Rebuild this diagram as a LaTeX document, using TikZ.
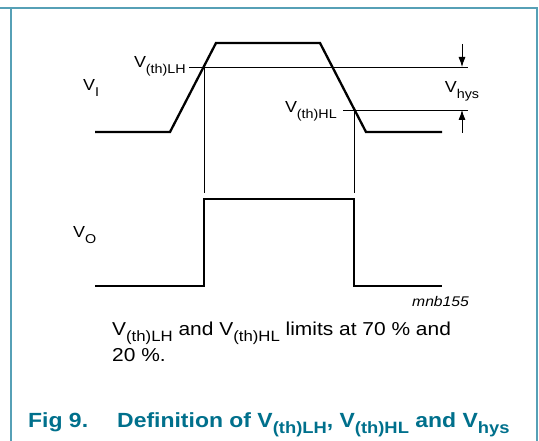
\documentclass[tikz,border=0pt]{standalone}
\usepackage{fontspec}
\setmainfont[FakeStretch=1.12]{Liberation Sans}
\setsansfont[FakeStretch=1.12]{Liberation Sans}
\usepackage{xcolor}
\usepackage{tikz}
\usetikzlibrary{arrows.meta, positioning}
\definecolor{figteal}{RGB}{0,112,140}
\definecolor{frameteal}{RGB}{86,160,182}
\newcommand{\lowsub}[1]{\raisebox{-0.32em}{\scalebox{0.8}{#1}}}
\tikzset{
  wave/.style={line width=2.3pt, line join=miter},
  lvl/.style={line width=0.8pt},
  lbl/.style={font=\fontsize{16}{18}\selectfont, inner sep=0pt, anchor=base west},
  tag/.style={font=\fontsize{14}{16}\selectfont\itshape, inner sep=0pt, anchor=base west},
  note/.style={font=\fontsize{18.7}{25}\selectfont, align=left, inner sep=0pt, anchor=base west},
  figcap/.style={font=\fontsize{20.5}{24}\selectfont\bfseries, text=figteal, inner sep=0pt, anchor=base west},
  dim/.style={-{Latex[length=10pt, width=7pt]}, line width=0.8pt},
  rim/.style={draw=frameteal, line width=2pt},
}

\begin{document}
\begin{tikzpicture}[x=1pt, y=-1pt]
      \useasboundingbox (0,0) rectangle (539,441);
      % frame
      \draw[rim] (0,8) -- (538,8);
      \draw[rim] (11,8) -- (11,441);
      \draw[rim] (537,8) -- (537,441);
      % threshold crossings
      \coordinate (lh) at (204,67);
      \coordinate (hl) at (354,110);
      % input waveform
      \draw[wave] (95,132) -- (170,132) -- (216,43) -- (320,43) -- (366,132) -- (442,132);
      \draw[lvl] (189,67) -- (468,67);
      \draw[lvl] (343,110) -- (468,110);
      \draw[lvl] (lh) -- (lh |- 0,193);
      \draw[lvl] (hl) -- (hl |- 0,193);
      % output waveform
      \draw[wave] (95,286) -- (lh |- 0,286) -- (lh |- 0,199) -- (hl |- 0,199) -- (hl |- 0,286) -- (442,286);
      % hysteresis arrows
      \coordinate (hyt) at (462,44);
      \coordinate (hyb) at (462,133);
      \draw[dim] (hyt) -- (hyt |- lh);
      \draw[dim] (hyb) -- (hyb |- hl);
      % labels
      \node[lbl] (vi) at (83,91) {V\lowsub{I}};
      \node[lbl] (vo) at (73,238) {V\lowsub{O}};
      \node[lbl, anchor=base east] (vlh) at (186,68) {V\lowsub{(th)LH}};
      \node[lbl, anchor=base east] (vhl) at (337,113) {V\lowsub{(th)HL}};
      \node[lbl, anchor=base] (vhys) at (hyt |- 0,93) {V\lowsub{hys}};
      \node[tag] (code) at (412,307) {mnb155};
      % note and caption
      \node[note] (nt) at (112,361) {V\lowsub{(th)LH} and V\lowsub{(th)HL} limits at 70 \% and\\20 \%.};
      \node[figcap] (fg) at (28,427) {Fig 9.};
      \node[figcap] (fd) at (117,427) {Definition of V\lowsub{(th)LH}, V\lowsub{(th)HL} and V\lowsub{hys}};
    \end{tikzpicture}
\end{document}
